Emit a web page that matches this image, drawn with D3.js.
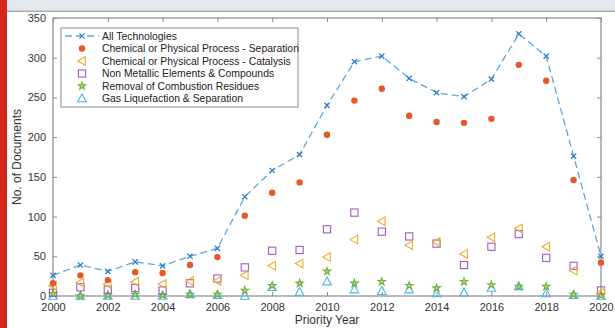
<!DOCTYPE html>
<html>
<head>
<meta charset="utf-8">
<script src="https://cdn.jsdelivr.net/npm/d3@7"></script>
<style>
	body { margin: 0; background: #fff; }
	svg { display: block; font-family: "Liberation Sans", Arial, sans-serif; }
</style>
</head>
<body>
<div id="chart"></div>
<script>

// priority years
const years = d3.range(2000, 2021);

const allTech     = [26, 39, 31, 43, 38, 50, 60, 125, 158, 178, 240, 295, 302, 274, 256, 251, 273, 330, 302, 176, 50];
const separation  = [16, 26, 20, 30, 29, 39, 49, 101, 130, 143, 203, 246, 261, 227, 219, 218, 223, 291, 271, 146, 42];
const catalysis   = [13, 17, 15, 18, 15, 19, 19, 26, 38, 41, 49, 71, 94, 64, 68, 53, 74, 85, 62, 32, 4];
const nonMetallic = [4, 11, 8, 10, 7, 16, 22, 36, 57, 58, 84, 105, 81, 75, 66, 39, 62, 78, 48, 38, 7];
const combustion  = [3, 0, 1, 2, 1, 2, 2, 7, 13, 16, 31, 16, 18, 13, 10, 18, 14, 12, 12, 2, 1];
const gasLiq      = [0, 0, 0, 0, 0, 2, 1, 0, 11, 5, 18, 8, 6, 8, 3, 4, 10, 12, 3, 1, 0];

const seriesNames = [
	'All Technologies',
	'Chemical or Physical Process - Separation',
	'Chemical or Physical Process - Catalysis',
	'Non Metallic Elements & Compounds',
	'Removal of Combustion Residues',
	'Gas Liquefaction & Separation'
];

const yTicks = [0, 50, 100, 150, 200, 250, 300, 350];
const xTicks = d3.range(2000, 2021, 2);

const width = 615;
const height = 328;
const margin = {left: 53, right: 14, top: 18, bottom: 32};

const svg = d3.select('#chart')
	.append('svg')
		.attr('width', width)
		.attr('height', height);

// page decoration round the figure
svg.append('rect')
	.attr('x', 0).attr('y', 0)
	.attr('width', width).attr('height', 11)
	.attr('fill', '#e4e9ef');
svg.append('rect')
	.attr('x', 0).attr('y', 10.5)
	.attr('width', width).attr('height', 1.5)
	.attr('fill', '#a9acb0');
svg.append('rect')
	.attr('x', 0).attr('y', 0)
	.attr('width', 7).attr('height', height)
	.attr('fill', '#d5261c');

const xScale = d3.scaleLinear()
	.domain([2000, 2020])
	.range([margin.left, width - margin.right]);

const yScale = d3.scaleLinear()
	.domain([0, 350])
	.range([height - margin.bottom, margin.top]);

const axisColor = '#8a8a8a';
const textColor = '#333';

// box
svg.append('rect')
	.attr('x', xScale(2000))
	.attr('y', yScale(350))
	.attr('width', xScale(2020) - xScale(2000))
	.attr('height', yScale(0) - yScale(350))
	.attr('fill', 'none')
	.attr('stroke', axisColor)
	.attr('stroke-width', 1.2);

function styleAxis(g) {
	g.select('.domain').remove();
	g.selectAll('.tick line').attr('stroke', axisColor);
	g.selectAll('.tick text')
		.attr('fill', textColor)
		.style('font-size', '11px');
}

svg.append('g')
	.attr('transform', `translate(0, ${yScale(0)})`)
	.call(d3.axisBottom(xScale).tickValues(xTicks).tickFormat(d3.format('d')).tickSizeInner(-4).tickSizeOuter(0).tickPadding(7))
	.call(styleAxis);

svg.append('g')
	.attr('transform', `translate(0, ${yScale(350)})`)
	.call(d3.axisTop(xScale).tickValues(xTicks).tickFormat('').tickSizeInner(-4).tickSizeOuter(0))
	.call(styleAxis);

svg.append('g')
	.attr('transform', `translate(${xScale(2000)}, 0)`)
	.call(d3.axisLeft(yScale).tickValues(yTicks).tickSizeInner(-4).tickSizeOuter(0).tickPadding(7))
	.call(styleAxis);

svg.append('g')
	.attr('transform', `translate(${xScale(2020)}, 0)`)
	.call(d3.axisRight(yScale).tickValues(yTicks).tickFormat('').tickSizeInner(-4).tickSizeOuter(0))
	.call(styleAxis);

// axis titles
svg.append('text')
	.attr('x', (xScale(2000) + xScale(2020)) / 2)
	.attr('y', 324)
	.attr('text-anchor', 'middle')
	.attr('fill', textColor)
	.style('font-size', '12px')
	.text('Priority Year');

svg.append('text')
	.attr('transform', `translate(21, ${(yScale(0) + yScale(350)) / 2}) rotate(-90)`)
	.attr('text-anchor', 'middle')
	.attr('fill', textColor)
	.style('font-size', '12px')
	.text('No. of Documents');

// marker shapes
const colors = ['#2f7fc8', '#e4582b', '#efaa2c', '#9c5cc4', '#72b03a', '#45b6ec'];

function drawMarker(g, kind, color) {
	if (kind == 'x') {
		g.append('path').attr('d', 'M-2.6,-2.6L2.6,2.6M-2.6,2.6L2.6,-2.6')
			.attr('stroke', color).attr('stroke-width', 1.3).attr('fill', 'none');
	} else if (kind == 'dot') {
		g.append('circle').attr('r', 3.2).attr('fill', color);
	} else if (kind == 'left') {
		g.append('path').attr('d', 'M-4.3,0L3.3,-4.3L3.3,4.3Z')
			.attr('stroke', color).attr('stroke-width', 1.1).attr('fill', 'none');
	} else if (kind == 'square') {
		g.append('rect').attr('x', -3.6).attr('y', -3.6).attr('width', 7.2).attr('height', 7.2)
			.attr('stroke', color).attr('stroke-width', 1.1).attr('fill', 'none');
	} else if (kind == 'star') {
		g.append('path').attr('d', d3.symbol(d3.symbolStar, 17)())
			.attr('stroke', color).attr('stroke-width', 1.1).attr('fill', '#b7d89a');
	} else if (kind == 'up') {
		g.append('path').attr('d', 'M0,-4.6L4.3,3.2L-4.3,3.2Z')
			.attr('stroke', color).attr('stroke-width', 1.1).attr('fill', 'none');
	}
}

const series = [
	{name: seriesNames[0], values: allTech, kind: 'x', color: colors[0]},
	{name: seriesNames[1], values: separation, kind: 'dot', color: colors[1]},
	{name: seriesNames[2], values: catalysis, kind: 'left', color: colors[2]},
	{name: seriesNames[3], values: nonMetallic, kind: 'square', color: colors[3]},
	{name: seriesNames[4], values: combustion, kind: 'star', color: colors[4]},
	{name: seriesNames[5], values: gasLiq, kind: 'up', color: colors[5]}
];

// dashed line for all technologies
const line = d3.line()
	.x(function(d, i) { return xScale(years[i]); })
	.y(function(d) { return yScale(d); });

svg.append('path')
	.datum(allTech)
	.attr('d', line)
	.attr('fill', 'none')
	.attr('stroke', '#5aa5e2')
	.attr('stroke-width', 1.3)
	.attr('stroke-dasharray', '7,4');

// markers, last series drawn first so the total stays on top
series.slice().reverse().forEach(function(s) {
	s.values.forEach(function(v, i) {
		let g = svg.append('g')
			.attr('transform', `translate(${xScale(years[i])}, ${yScale(v)})`);
		drawMarker(g, s.kind, s.color);
	});
});

// legend
const legend = svg.append('g').attr('class', 'legend');

legend.append('rect')
	.attr('x', 61).attr('y', 28)
	.attr('width', 237).attr('height', 79)
	.attr('fill', '#fff')
	.attr('stroke', '#8a8a8a')
	.attr('stroke-width', 1);

series.forEach(function(s, i) {
	let y = 36 + i * 12.5;
	if (i == 0) {
		legend.append('line')
			.attr('x1', 65).attr('x2', 99)
			.attr('y1', y).attr('y2', y)
			.attr('stroke', '#5aa5e2')
			.attr('stroke-width', 1.3)
			.attr('stroke-dasharray', '7,4');
	}
	let g = legend.append('g').attr('transform', `translate(82, ${y})`);
	drawMarker(g, s.kind, s.color);
	legend.append('text')
		.attr('x', 102)
		.attr('y', y)
		.attr('dy', '0.35em')
		.attr('fill', '#222')
		.style('font-size', '10.4px')
		.text(s.name);
});

</script>
</body>
</html>
